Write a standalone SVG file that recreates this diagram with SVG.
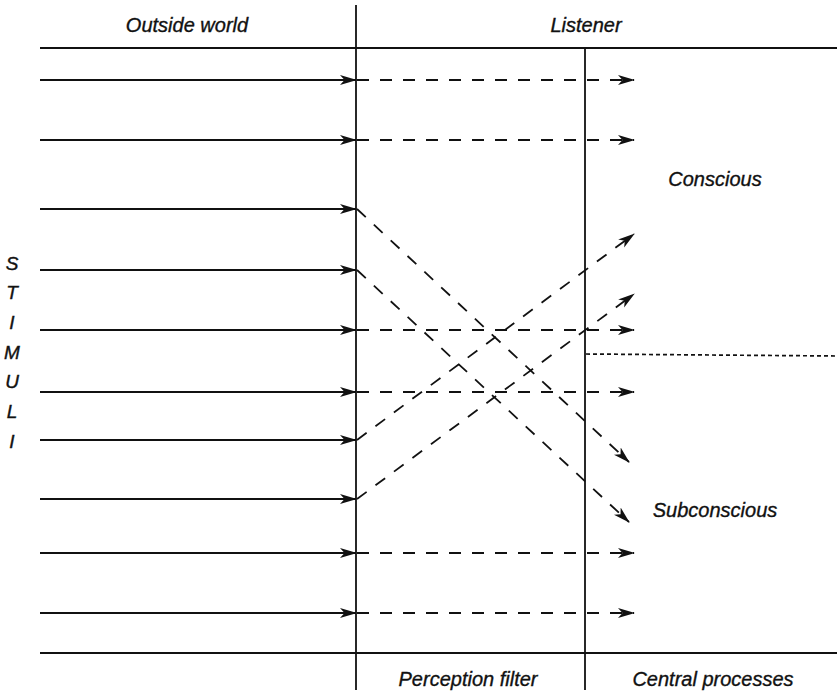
<svg xmlns="http://www.w3.org/2000/svg" width="837" height="694" viewBox="0 0 837 694">
<defs>
<marker id="ah" viewBox="0 0 17 11" refX="16" refY="5.5" markerWidth="17" markerHeight="11" markerUnits="userSpaceOnUse" orient="auto">
<path d="M0,0.5 L17,5.5 L0,10.5 L4.5,5.5 Z" fill="#111"/>
</marker>
<style>
.lbl{font-family:"Liberation Sans",Arial,sans-serif;font-style:italic;font-size:20px;fill:#111;stroke:#111;stroke-width:0.35;text-anchor:middle}
.let{font-family:"Liberation Sans",Arial,sans-serif;font-style:italic;font-size:19px;fill:#111;stroke:#111;stroke-width:0.4;text-anchor:middle}
.frame{stroke:#111;stroke-width:1.8;fill:none}
.in{stroke:#111;stroke-width:2;fill:none;marker-end:url(#ah)}
.out{stroke:#111;stroke-width:1.8;fill:none;stroke-dasharray:12 11;marker-end:url(#ah)}
.split{stroke:#111;stroke-width:1.7;fill:none;stroke-dasharray:4 3}
</style>
</defs>
<rect width="837" height="694" fill="#fff"/>
<g id="frame">
<line class="frame" x1="40" y1="48" x2="837" y2="48"/>
<line class="frame" x1="40" y1="653" x2="837" y2="653"/>
<line class="frame" x1="356" y1="5" x2="356" y2="690"/>
<line class="frame" x1="585" y1="48" x2="585" y2="690"/>
<line class="split" x1="586" y1="354" x2="837" y2="356"/>
</g>
<g id="outside-world"><text class="lbl" x="187" y="32">Outside world</text></g>
<g id="listener"><text class="lbl" x="586" y="32">Listener</text></g>
<g id="perception-filter"><text class="lbl" x="468" y="686">Perception filter</text></g>
<g id="central-processes"><text class="lbl" x="713" y="686">Central processes</text></g>
<g id="conscious"><text class="lbl" x="715" y="186">Conscious</text></g>
<g id="subconscious"><text class="lbl" x="715" y="517">Subconscious</text></g>
<g id="stimuli">
<text class="let" x="12" y="270">S</text>
<text class="let" x="12" y="299">T</text>
<text class="let" x="12" y="329">I</text>
<text class="let" x="12" y="359">M</text>
<text class="let" x="12" y="388">U</text>
<text class="let" x="12" y="418">L</text>
<text class="let" x="12" y="448">I</text>
</g>
<g id="connectors">
<line class="in" x1="40" y1="80" x2="356" y2="80"/>
<line class="in" x1="40" y1="140" x2="356" y2="140"/>
<line class="in" x1="40" y1="209" x2="356" y2="209"/>
<line class="in" x1="40" y1="270" x2="356" y2="270"/>
<line class="in" x1="40" y1="330" x2="356" y2="330"/>
<line class="in" x1="40" y1="392" x2="356" y2="392"/>
<line class="in" x1="40" y1="440" x2="356" y2="440"/>
<line class="in" x1="40" y1="499" x2="356" y2="499"/>
<line class="in" x1="40" y1="553" x2="356" y2="553"/>
<line class="in" x1="40" y1="613" x2="356" y2="613"/>
<line class="out" x1="357" y1="80" x2="634" y2="80"/>
<line class="out" x1="357" y1="140" x2="634" y2="140"/>
<line class="out" x1="357" y1="330" x2="634" y2="330"/>
<line class="out" x1="357" y1="392" x2="634" y2="392"/>
<line class="out" x1="357" y1="553" x2="634" y2="553"/>
<line class="out" x1="357" y1="613" x2="634" y2="613"/>
<line class="out" x1="357" y1="209" x2="629" y2="462"/>
<line class="out" x1="357" y1="270" x2="629" y2="522"/>
<line class="out" x1="357" y1="440" x2="634" y2="234"/>
<line class="out" x1="357" y1="499" x2="634" y2="294"/>
</g>
</svg>
